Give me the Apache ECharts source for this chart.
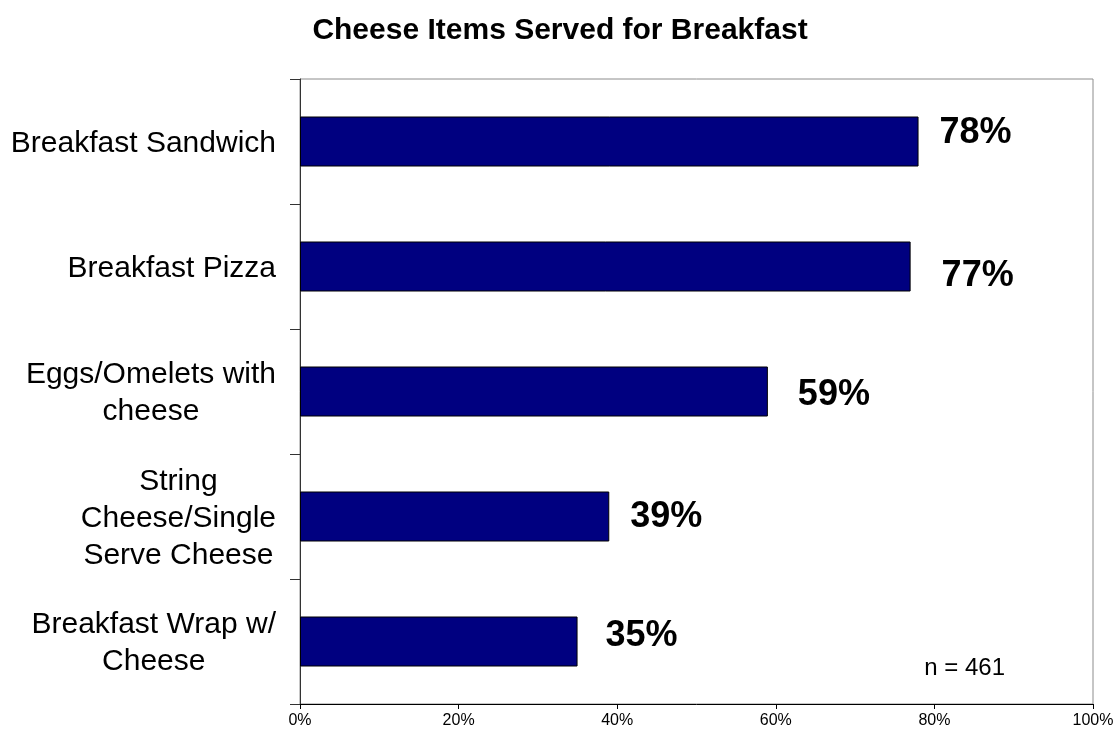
<!DOCTYPE html>
<html>
<head>
<meta charset="utf-8">
<title>Cheese Items Served for Breakfast</title>
<script src="https://cdn.jsdelivr.net/npm/echarts@6/dist/echarts.min.js"></script>
<style>
  html, body { margin: 0; padding: 0; background: #fff; }
  #chart { width: 1120px; height: 736px; }
</style>
</head>
<body>
<div id="chart"></div>
<script>
// Share of operators serving each cheese item at breakfast (%)
const categories = [
  'Breakfast Sandwich',
  'Breakfast Pizza',
  'Eggs/Omelets with\ncheese',
  'String\nCheese/Single\nServe Cheese',
  'Breakfast Wrap w/\nCheese'
];
const values = [78, 77, 59, 39, 35];
const xTicks = [0, 20, 40, 60, 80, 100];
const sampleNote = 'n = 461';

// Small per-label nudges so the value labels sit where the layout places them
const labelNudgeX = [1, 11, 10, 1, 8];
const labelNudgeY = [-8, 10, 4, 1, -5];

const FONT = 'Liberation Sans, Arial, Helvetica, sans-serif';

const chart = echarts.init(document.getElementById('chart'), null, { renderer: 'canvas' });

const barData = values.map((v, i) => ({
  value: v,
  label: { offset: [labelNudgeX[i], labelNudgeY[i]] }
}));

chart.setOption({
  backgroundColor: '#ffffff',
  animation: false,
  title: {
    text: 'Cheese Items Served for Breakfast',
    left: 'center',
    top: 11,
    textStyle: { fontFamily: FONT, fontSize: 30, fontWeight: 'bold', color: '#000' }
  },
  grid: {
    left: 300, right: 27, top: 79, bottom: 32,
    show: true, borderColor: '#8c8c8c', borderWidth: 1, backgroundColor: 'transparent'
  },
  xAxis: {
    type: 'value',
    min: 0, max: 100, interval: 20,
    axisLine: { show: true, lineStyle: { color: '#000', width: 1 } },
    axisTick: { show: true, length: 5, lineStyle: { color: '#000' } },
    splitLine: { show: false },
    axisLabel: {
      margin: 9,
      fontFamily: FONT, fontSize: 16, color: '#000',
      formatter: v => (xTicks.includes(v) ? v + '%' : '')
    }
  },
  yAxis: {
    type: 'category',
    inverse: true,
    data: categories,
    axisLine: { show: true, lineStyle: { color: '#333', width: 1 } },
    axisTick: { show: true, length: 10, inside: false, lineStyle: { color: '#333' } },
    axisLabel: {
      margin: 24,
      padding: [4, 0, 0, 0],
      fontFamily: FONT, fontSize: 30, color: '#000',
      formatter: name => name.split('\n').map(l => '{c|' + l + '}').join('\n'),
      rich: {
        c: { align: 'center', fontFamily: FONT, fontSize: 30, lineHeight: 37, color: '#000' }
      }
    }
  },
  series: [{
    type: 'bar',
    data: barData,
    barWidth: 50,
    itemStyle: { color: '#000080', borderColor: '#000', borderWidth: 1 },
    label: {
      show: true,
      position: 'right',
      distance: 20,
      formatter: p => p.value + '%',
      fontFamily: FONT, fontSize: 36, fontWeight: 'bold', color: '#000'
    }
  }],
  graphic: [{
    type: 'text',
    right: 1120 - 1005,
    top: 656,
    style: { text: sampleNote, fontFamily: FONT, fontSize: 24, fill: '#000' }
  }]
});
</script>
</body>
</html>
